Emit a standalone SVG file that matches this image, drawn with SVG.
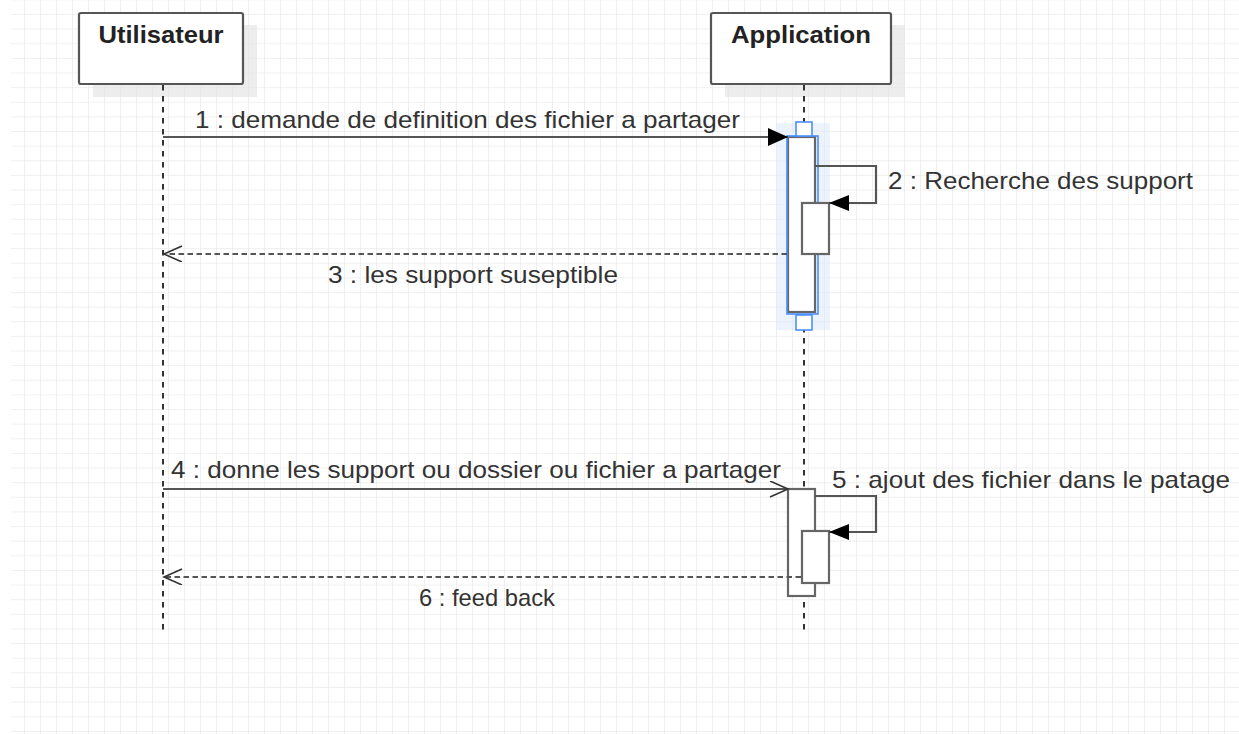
<svg xmlns="http://www.w3.org/2000/svg" width="1239" height="734" viewBox="0 0 1239 734">
<defs>
<pattern id="grid" patternUnits="userSpaceOnUse" x="8" y="14" width="16" height="14.63">
<path d="M0 0 H16 M0 0 V14.63" stroke="#ebebeb" stroke-width="1.6" fill="none"/>
</pattern>
<marker id="filled" markerUnits="userSpaceOnUse" markerWidth="24" markerHeight="20" refX="20" refY="9" orient="auto">
<path d="M0 0 L20 9 L0 18 Z" fill="#000"/>
</marker>
<marker id="filledS" markerUnits="userSpaceOnUse" markerWidth="24" markerHeight="20" refX="20" refY="8" orient="auto">
<path d="M0 0 L20 8 L0 16 Z" fill="#000"/>
</marker>
<marker id="open" markerUnits="userSpaceOnUse" markerWidth="24" markerHeight="20" refX="19" refY="8" orient="auto">
<path d="M1 0 L19 8 L1 16" fill="none" stroke="#333" stroke-width="1.6"/>
</marker>
</defs>
<style>
.box{fill:#fff;stroke:#555;stroke-width:2.2}
.shadow{fill:#e6e6e6;opacity:0.7}
.title{font-family:"Liberation Sans",Arial,sans-serif;font-weight:bold;font-size:24px;fill:#222}
.lbl{font-family:"Liberation Sans",Arial,sans-serif;font-size:24px;fill:#333}
.life{stroke:#333;stroke-width:2;stroke-dasharray:5.5 5.5;fill:none}
.msg{stroke:#555;stroke-width:2.2;fill:none}
.ret{stroke:#555;stroke-width:2.2;fill:none;stroke-dasharray:5.5 3.5}
.act{fill:#fff;stroke:#666;stroke-width:2.2}
</style>
<rect x="11" y="0" width="1228" height="734" fill="#fff"/>
<rect x="11" y="0" width="1228" height="734" fill="url(#grid)"/>

<g id="utilisateur">
<rect class="shadow" x="93" y="25" width="164" height="72"/>
<rect class="box" x="79" y="13" width="164" height="71" rx="2"/>
<text class="title" x="161" y="43" text-anchor="middle" textLength="125" lengthAdjust="spacingAndGlyphs">Utilisateur</text>
<line class="life" x1="163" y1="85" x2="163" y2="630"/>
</g>

<g id="application">
<rect class="shadow" x="725" y="25" width="180" height="72"/>
<rect class="box" x="711" y="13" width="180" height="71" rx="2"/>
<text class="title" x="801" y="43" text-anchor="middle" textLength="140" lengthAdjust="spacingAndGlyphs">Application</text>
<line class="life" x1="804" y1="85" x2="804" y2="630"/>
</g>

<g id="activation1">
<rect x="776" y="123" width="54" height="207" fill="#dce9fb" opacity="0.55"/>
<rect class="act" x="788" y="137" width="27" height="175"/>
<rect x="787" y="136" width="31" height="178" fill="none" stroke="#4a90ff" stroke-width="1.6"/>
<rect x="796" y="122" width="16" height="14" fill="#fff" stroke="#4a90ff" stroke-width="1.6"/>
<rect x="796" y="315" width="16" height="15" fill="#fff" stroke="#4a90ff" stroke-width="1.6"/>
</g>
<g id="activation1b">
<rect class="act" x="802" y="203" width="27" height="51"/>
</g>

<g id="activation2">
<rect class="act" x="788" y="489" width="27" height="107"/>
</g>
<g id="activation2b">
<rect class="act" x="802" y="531" width="27" height="52"/>
</g>

<g id="connectors">
<line class="msg" x1="163" y1="137" x2="788" y2="137" marker-end="url(#filled)"/>
<polyline class="msg" points="815,166 876,166 876,203 829,203" marker-end="url(#filledS)"/>
<line class="ret" x1="787" y1="254" x2="164" y2="254" marker-end="url(#open)"/>
<line class="msg" x1="163" y1="489" x2="788" y2="489" marker-end="url(#open)"/>
<polyline class="msg" points="815,496 876,496 876,532 829,532" marker-end="url(#filledS)"/>
<line class="ret" x1="801" y1="577" x2="164" y2="577" marker-end="url(#open)"/>
</g>

<g id="labels">
<text class="lbl" x="195" y="128" textLength="545" lengthAdjust="spacingAndGlyphs">1 : demande de definition des fichier a partager</text>
<text class="lbl" x="888" y="189" textLength="305" lengthAdjust="spacingAndGlyphs">2 : Recherche des support</text>
<text class="lbl" x="328" y="283" textLength="290" lengthAdjust="spacingAndGlyphs">3 : les support suseptible</text>
<text class="lbl" x="171" y="478" textLength="610" lengthAdjust="spacingAndGlyphs">4 : donne les support ou dossier ou fichier a partager</text>
<text class="lbl" x="832" y="488" textLength="398" lengthAdjust="spacingAndGlyphs">5 : ajout des fichier dans le patage</text>
<text class="lbl" x="419" y="606" textLength="136" lengthAdjust="spacingAndGlyphs">6 : feed back</text>
</g>
</svg>
